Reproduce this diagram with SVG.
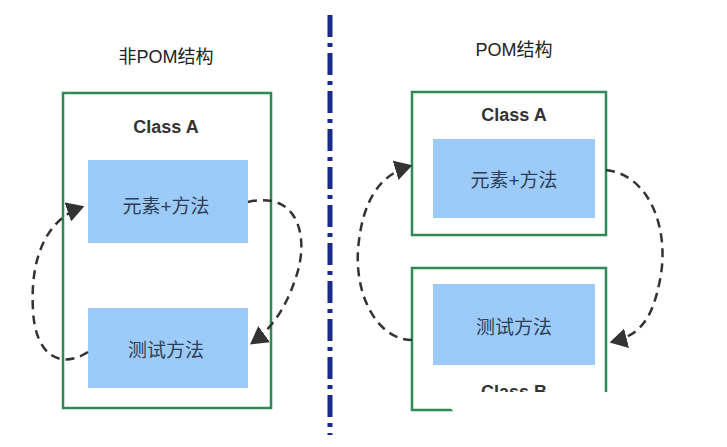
<svg xmlns="http://www.w3.org/2000/svg" width="727" height="447" viewBox="0 0 727 447">
<style>
.t{font-family:"Liberation Sans","Noto Sans CJK SC",sans-serif;fill:#222;text-anchor:middle}
.frame{fill:#fff;stroke:#2e8b57;stroke-width:2.5}
.blue{fill:#9ccbfa}
.bt{font-family:"Liberation Sans","Noto Sans CJK SC",sans-serif;fill:#2d3e55;font-size:19px;text-anchor:middle}
.cls{font-family:"Liberation Sans","Noto Sans CJK SC",sans-serif;font-weight:bold;font-size:18px;fill:#333;text-anchor:middle}
.arr{fill:none;stroke:#333;stroke-width:2.5;stroke-dasharray:9 6;marker-end:url(#ah)}
</style>
<defs><marker id="ah" markerWidth="8" markerHeight="8" refX="6" refY="4" orient="auto" markerUnits="strokeWidth"><path d="M0,0 L7,4 L0,8 Z" fill="#333"/></marker></defs>
<rect width="727" height="447" fill="#fff"/>
<line x1="330" y1="15" x2="330" y2="435" stroke="#1a2a8a" stroke-width="5" stroke-dasharray="22 6 4 6"/>
<text class="t" x="166" y="63" font-size="18">非POM结构</text>
<text class="t" x="514" y="56" font-size="18">POM结构</text>
<g id="classA-left"><rect class="frame" x="63" y="93" width="208" height="315"/><text class="cls" x="166" y="133">Class A</text></g>
<g id="left-elem"><rect class="blue" x="88" y="160" width="160" height="83"/><text class="bt" x="166" y="213">元素+方法</text></g>
<g id="left-test"><rect class="blue" x="88" y="308" width="160" height="80"/><text class="bt" x="166" y="357">测试方法</text></g>
<g id="classA-right"><rect class="frame" x="412" y="92" width="194" height="143"/><text class="cls" x="514" y="121">Class A</text></g>
<g id="right-elem"><rect class="blue" x="433" y="139" width="162" height="79"/><text class="bt" x="514" y="187">元素+方法</text></g>
<g id="classB-right"><rect class="frame" x="412" y="268" width="194" height="142"/><text class="cls" x="514" y="398">Class B</text></g>
<g id="right-test"><rect class="blue" x="433" y="284" width="162" height="81"/><text class="bt" x="514" y="334">测试方法</text></g>
<rect x="450" y="392" width="240" height="22" rx="10" fill="#fff"/>
<g id="connectors">
<path class="arr" d="M248,202 C300,190 310,240 295,280 C285,310 270,330 252,343"/>
<path class="arr" d="M88,352 C60,370 35,355 33,310 C30,260 45,220 82,207"/>
<path class="arr" d="M606,170 C650,175 670,230 660,280 C652,320 640,335 612,342"/>
<path class="arr" d="M412,340 C380,340 355,300 358,250 C362,200 380,175 410,166"/>
</g>
</svg>
